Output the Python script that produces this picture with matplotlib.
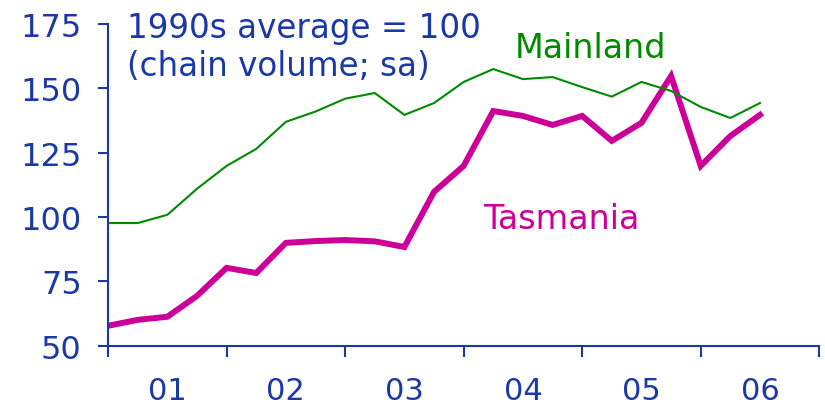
import numpy as np
import matplotlib.pyplot as plt
from matplotlib.ticker import FixedLocator, NullFormatter

# quarterly, starting at the 2001 boundary
quarters = np.arange(23)
mainland = [97.7, 97.7, 100.9, 111.0, 119.9, 126.5, 137.0, 141.0, 146.0, 148.2,
            139.7, 144.3, 152.5, 157.5, 153.6, 154.4, 150.5, 146.8, 152.5, 149.0,
            142.8, 138.5, 144.3]
tasmania = [57.8, 60.1, 61.3, 69.4, 80.3, 78.3, 90.0, 90.7, 91.1, 90.6,
            88.4, 109.8, 119.9, 141.2, 139.3, 135.8, 139.3, 129.6, 136.6, 154.8,
            119.9, 131.5, 139.7]
year_labels = ['01', '02', '03', '04', '05', '06']
y_ticks = [50, 75, 100, 125, 150, 175]

blue = '#1A38A6'
green = '#008A00'
magenta = '#CC0099'

x = 2001 + quarters * 0.25

fig = plt.figure(figsize=(8.25, 4.1), dpi=100)
ax = fig.add_axes([0.131, 0.154, 0.862, 0.785])

# Tasmania underneath, Mainland drawn over it
ax.plot(x, tasmania, color=magenta, lw=4.3, solid_joinstyle='miter')
ax.plot(x, mainland, color=green, lw=1.5)

ax.set_xlim(2001, 2007)
ax.set_ylim(50, 175)
ax.set_yticks(y_ticks)

ax.xaxis.set_major_locator(FixedLocator(np.arange(2001, 2008)))
ax.xaxis.set_major_formatter(NullFormatter())
ax.xaxis.set_minor_locator(FixedLocator(np.arange(2001, 2007) + 0.5))
ax.set_xticklabels(year_labels, minor=True)

for s in ['top', 'right']:
    ax.spines[s].set_visible(False)
for s in ['left', 'bottom']:
    ax.spines[s].set_color(blue)
    ax.spines[s].set_linewidth(1.5)

ax.tick_params(axis='y', direction='out', length=7, width=1.5, color=blue,
               labelcolor=blue, labelsize=23, pad=12)
ax.tick_params(axis='x', which='major', direction='out', length=8, width=1.5,
               color=blue)
ax.tick_params(axis='x', which='minor', length=0, labelcolor=blue,
               labelsize=22, pad=22)

ax.text(0.026, 1.04, '1990s average = 100\n(chain volume; sa)', transform=ax.transAxes,
        ha='left', va='top', color=blue, fontsize=23.5, linespacing=1.2)
ax.text(0.572, 0.897, 'Mainland', transform=ax.transAxes, ha='left', va='baseline',
        color=green, fontsize=24)
ax.text(0.527, 0.366, 'Tasmania', transform=ax.transAxes, ha='left', va='baseline',
        color=magenta, fontsize=24)

fig.savefig('out.png', dpi=100)
